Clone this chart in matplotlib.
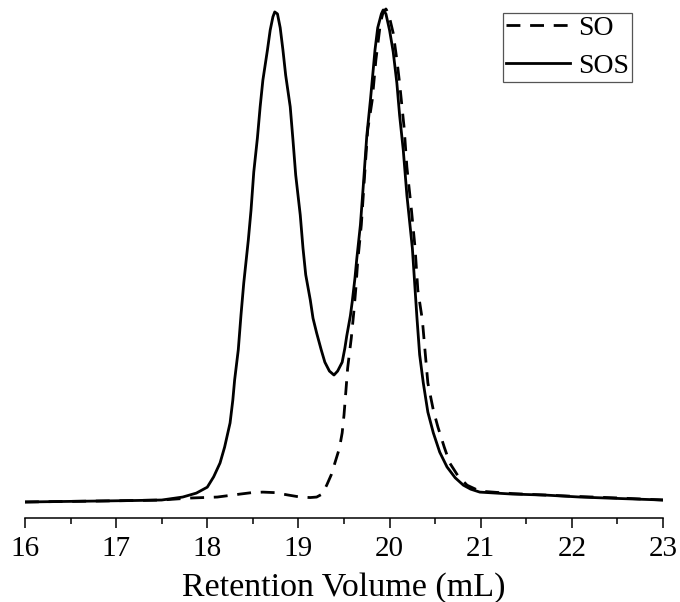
import matplotlib
matplotlib.use("Agg")
import matplotlib.pyplot as plt
from matplotlib.ticker import MultipleLocator

plt.rcParams['font.family'] = ['Liberation Serif', 'DejaVu Serif']

# SOS trace (retention volume in mL, normalised signal)
sos_x = [16.00, 16.40, 16.82, 17.20, 17.50, 17.73, 17.88, 18.00, 18.07, 18.14,
         18.19, 18.25, 18.28, 18.30, 18.34, 18.37, 18.40, 18.45, 18.48, 18.51,
         18.55, 18.58, 18.61, 18.66, 18.69, 18.72, 18.74, 18.77, 18.80, 18.83,
         18.86, 18.91, 18.94, 18.97, 19.02, 19.05, 19.08, 19.13, 19.16, 19.20,
         19.25, 19.29, 19.34, 19.39, 19.43, 19.48, 19.51, 19.53, 19.57, 19.59,
         19.62, 19.64, 19.68, 19.71, 19.75, 19.79, 19.82, 19.84, 19.87, 19.91,
         19.93, 19.96, 20.00, 20.04, 20.08, 20.11, 20.15, 20.19, 20.25, 20.30,
         20.33, 20.37, 20.42, 20.48, 20.55, 20.63, 20.72, 20.81, 20.89, 20.99,
         21.35, 21.71, 22.09, 22.53, 23.00]
sos_y = [0.000, 0.001, 0.002, 0.003, 0.004, 0.010, 0.018, 0.030, 0.051, 0.079,
         0.111, 0.160, 0.206, 0.247, 0.308, 0.379, 0.443, 0.530, 0.591, 0.668,
         0.737, 0.800, 0.854, 0.915, 0.955, 0.982, 0.992, 0.988, 0.960, 0.915,
         0.864, 0.800, 0.733, 0.662, 0.581, 0.514, 0.460, 0.409, 0.372, 0.342,
         0.308, 0.283, 0.265, 0.257, 0.265, 0.283, 0.312, 0.336, 0.377, 0.405,
         0.453, 0.492, 0.561, 0.636, 0.741, 0.814, 0.874, 0.915, 0.960, 0.988,
         0.996, 0.988, 0.955, 0.911, 0.848, 0.783, 0.713, 0.621, 0.514, 0.374,
         0.298, 0.241, 0.182, 0.140, 0.101, 0.071, 0.049, 0.034, 0.026, 0.020,
         0.016, 0.014, 0.010, 0.007, 0.004]

# SO trace
so_x = [16.00, 16.40, 16.82, 17.20, 17.50, 17.81, 18.11, 18.36, 18.49, 18.61,
        18.74, 18.89, 19.02, 19.13, 19.20, 19.26, 19.31, 19.36, 19.40, 19.45,
        19.48, 19.50, 19.52, 19.54, 19.58, 19.61, 19.63, 19.65, 19.69, 19.73,
        19.76, 19.81, 19.85, 19.90, 19.93, 19.96, 19.99, 20.04, 20.08, 20.11,
        20.16, 20.19, 20.24, 20.28, 20.31, 20.36, 20.39, 20.42, 20.48, 20.53,
        20.60, 20.66, 20.75, 20.85, 20.99, 21.35, 21.71, 22.09, 22.53, 23.00]
so_y = [0.000, 0.001, 0.002, 0.003, 0.004, 0.008, 0.010, 0.016, 0.019, 0.020,
        0.019, 0.014, 0.010, 0.009, 0.010, 0.016, 0.034, 0.055, 0.079, 0.109,
        0.140, 0.176, 0.223, 0.271, 0.332, 0.389, 0.433, 0.486, 0.561, 0.672,
        0.753, 0.814, 0.895, 0.970, 0.992, 0.998, 0.988, 0.949, 0.895, 0.848,
        0.757, 0.678, 0.591, 0.514, 0.429, 0.368, 0.304, 0.241, 0.186, 0.152,
        0.111, 0.079, 0.053, 0.034, 0.022, 0.017, 0.014, 0.011, 0.008, 0.004]

fig = plt.figure(figsize=(6.8, 6.02), dpi=100)
ax = fig.add_axes([25 / 680, 84 / 602, 638 / 680, 515 / 602])

ax.plot(so_x, so_y, color='black', lw=2.0, ls=(0, (5, 3.5)), label='SO')
ax.plot(sos_x, sos_y, color='black', lw=2.0, label='SOS')

ax.set_xlim(16, 23)
ax.set_ylim(-0.0324, 1.0101)

for s in ['left', 'right', 'top']:
    ax.spines[s].set_visible(False)
ax.spines['bottom'].set_linewidth(1.1)
ax.set_yticks([])

ax.xaxis.set_major_locator(MultipleLocator(1))
ax.xaxis.set_minor_locator(MultipleLocator(0.5))
ax.tick_params(axis='x', which='major', direction='out', length=7, width=1.1,
               labelsize=21, pad=6)
ax.tick_params(axis='x', which='minor', direction='out', length=4.5, width=1.1)

ax.set_xlabel('Retention Volume (mL)', fontsize=24.5, labelpad=7)

leg = ax.legend(loc='upper right', bbox_to_anchor=(0.951, 0.981), fontsize=20,
                frameon=True, fancybox=False, framealpha=1, borderpad=0.1,
                handlelength=2.3, handletextpad=0.3, labelspacing=0.45,
                borderaxespad=0)
leg.get_frame().set_edgecolor('#555555')
leg.get_frame().set_linewidth(0.9)

fig.savefig('out.png', dpi=100)
